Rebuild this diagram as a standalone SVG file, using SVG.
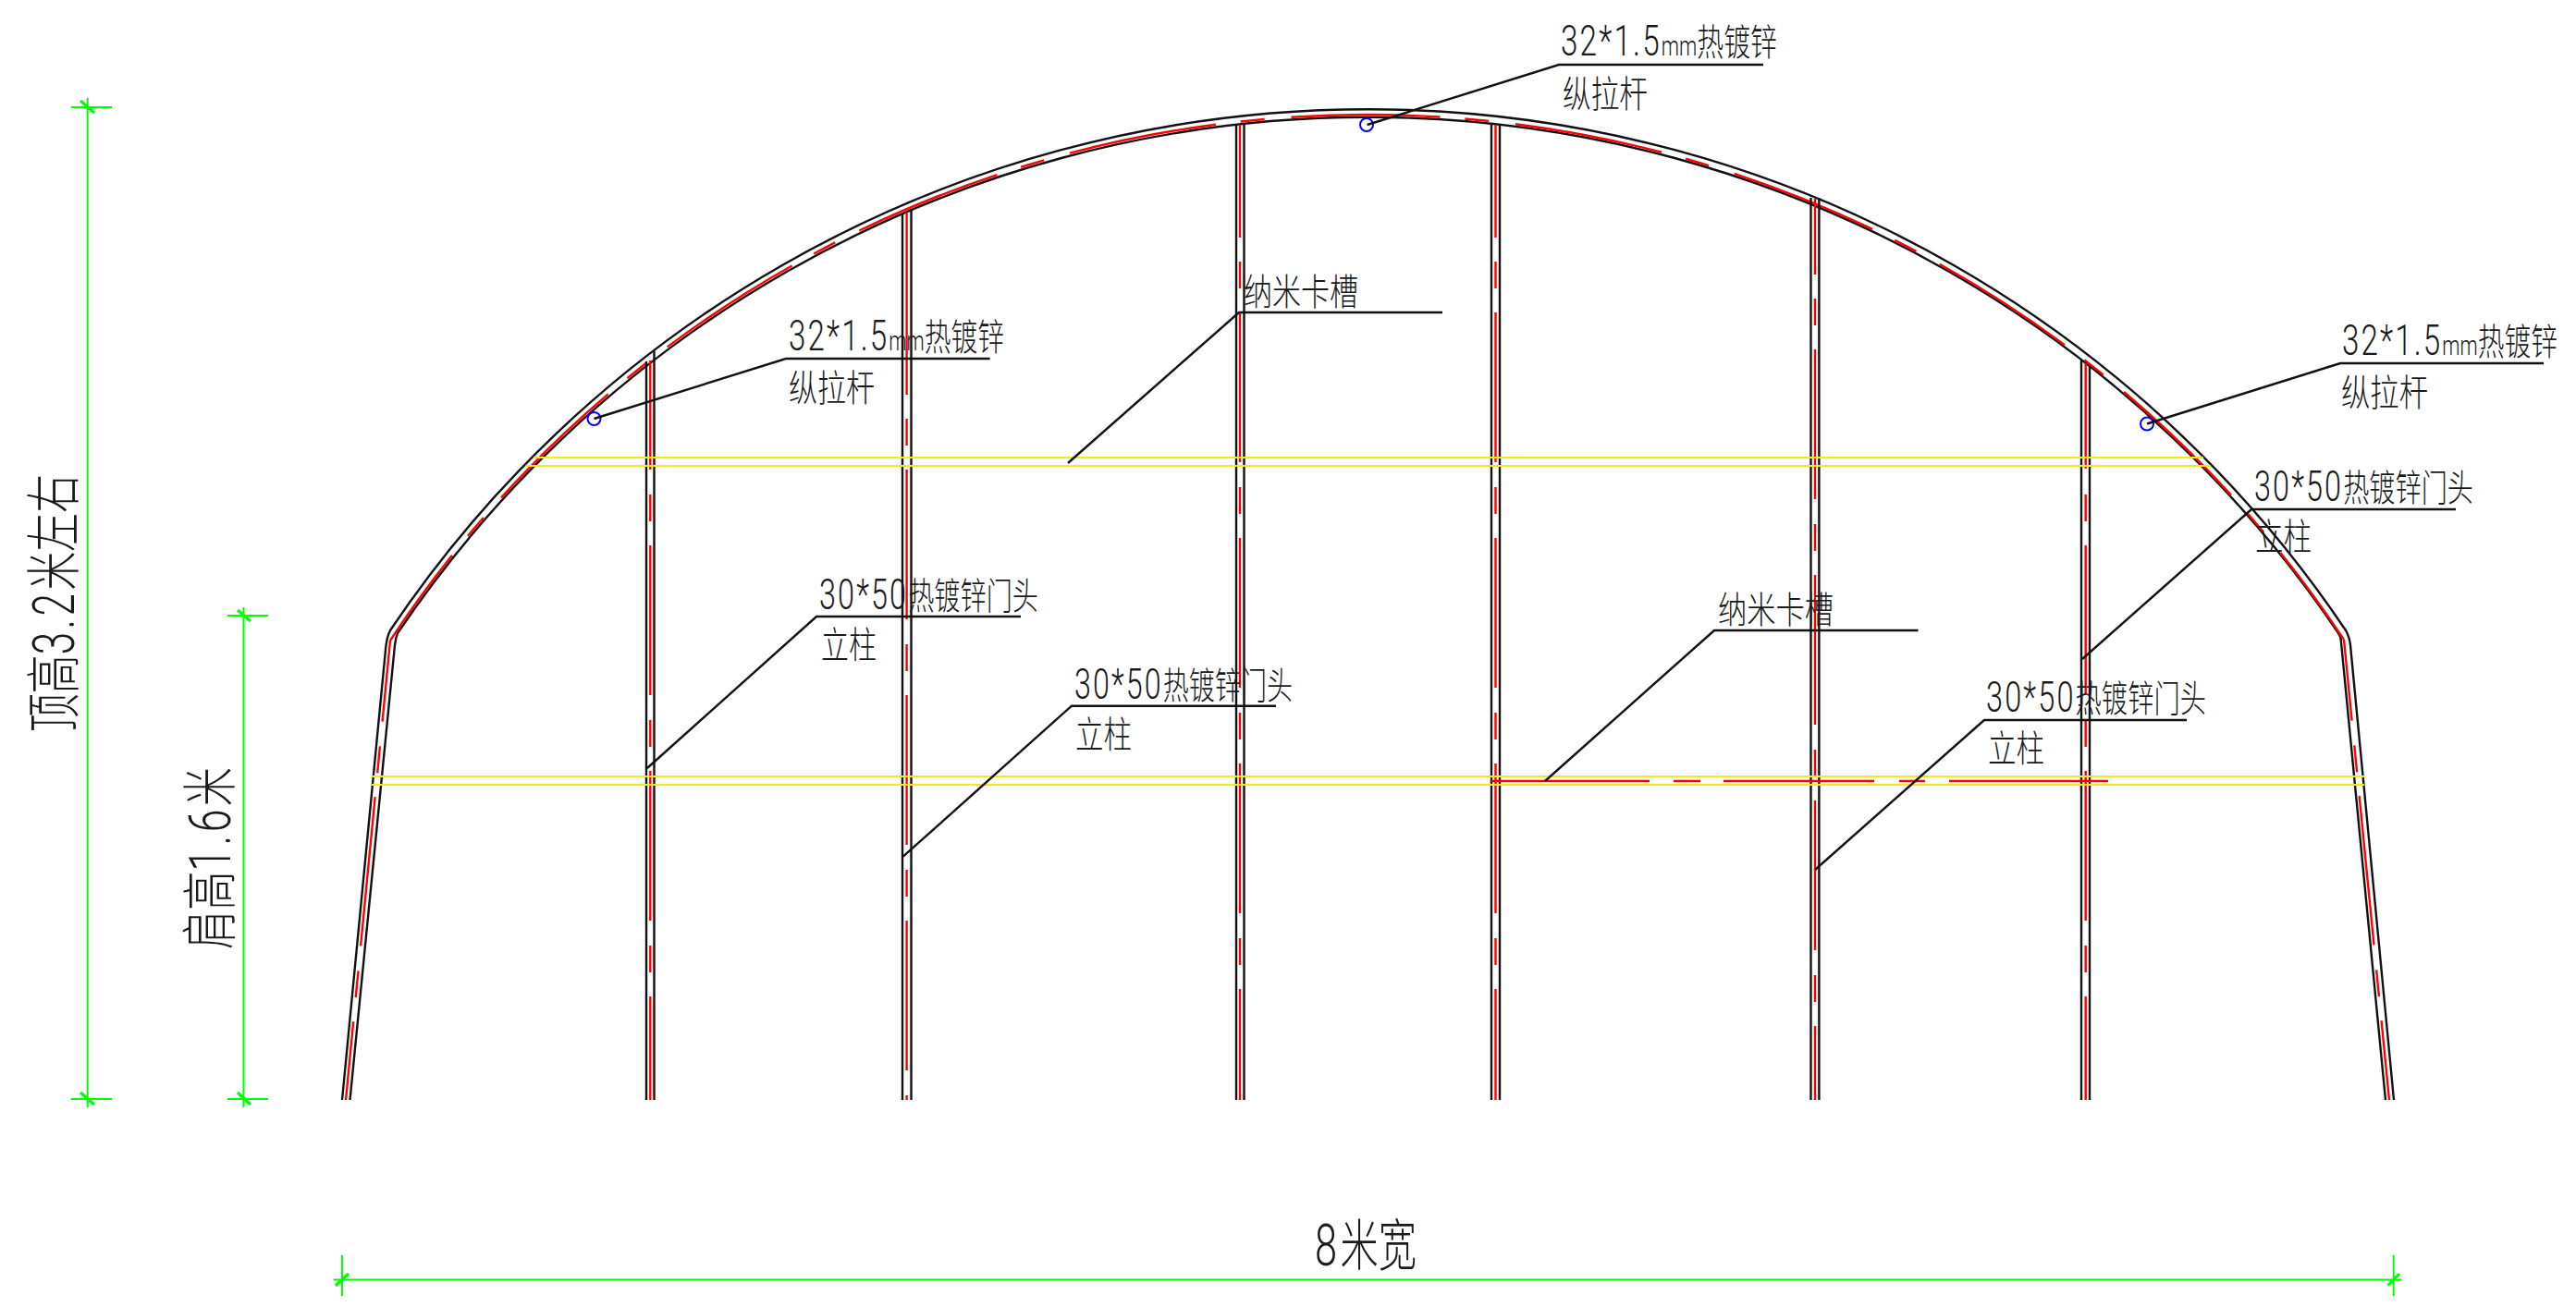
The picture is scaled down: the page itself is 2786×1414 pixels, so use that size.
<svg xmlns="http://www.w3.org/2000/svg" width="2786" height="1414" viewBox="0 0 2786 1414">
<style>
.k{fill:none;stroke:#111;stroke-width:2.4}
.l{fill:none;stroke:#111;stroke-width:2.4}
.r{fill:none;stroke:#f00;stroke-width:2.4}
.rc{stroke-dasharray:162 27 29 26}
.y{fill:none;stroke:#f5ea14;stroke-width:2}
.g{fill:none;stroke:#0f0;stroke-width:2}
.gt{fill:none;stroke:#0f0;stroke-width:3.2}
.b{fill:none;stroke:#00f;stroke-width:2}
text{font-family:"Liberation Sans","Noto Sans CJK SC",sans-serif;font-weight:300;fill:#1a1a1a;font-size:40px}
.big{font-size:60px}
.n{font-family:Roboto,"Liberation Sans",sans-serif;font-weight:300;font-size:46px;letter-spacing:3px}
.m{font-size:30px;letter-spacing:0}
.big .n{font-size:63px;letter-spacing:5px}
</style>
<rect width="2786" height="1414" fill="#fff"/>
<g id="arch">
<path class="k" d="M370,1190L417,703Q418,690 422,682A1273.7,1273.7 0 0 1 2537,682Q2541,689 2542,698L2589,1190"/>
<path class="k" d="M378.5,1190L427,698Q428,690 430,685A1265.7,1265.7 0 0 1 2529,685Q2532,689 2532,695L2580,1190"/>
<path class="r" stroke-dasharray="161 27 26 29" stroke-dashoffset="47" d="M422,693A1266,1266 0 0 1 2535,692"/>
<path class="r rc" stroke-dashoffset="74" d="M422,693L374,1190"/>
<path class="r rc" stroke-dashoffset="74" d="M2535,692L2584,1190"/>
</g>
<g id="column-1">
<path class="k" d="M699,391V1190M707.5,380V1190"/>
<path class="r rc" stroke-dashoffset="44" d="M703.3,390V1190"/>
</g>
<g id="column-2">
<path class="k" d="M976,232V1190M985.5,228V1190"/>
<path class="r" d="M980.6,229V427"/>
<path class="r" stroke-dasharray="29 26 162 27" d="M980.6,453V1190"/>
</g>
<g id="column-3">
<path class="k" d="M1337,135V1190M1345.5,135V1190"/>
<path class="r" d="M1341,135V257"/>
<path class="r" stroke-dasharray="29 26 162 27" d="M1341,283V1190"/>
</g>
<g id="column-4">
<path class="k" d="M1613,135V1190M1622,135V1190"/>
<path class="r" d="M1617.5,135V257"/>
<path class="r" stroke-dasharray="29 26 162 27" d="M1617.5,283V1190"/>
</g>
<g id="column-5">
<path class="k" d="M1958.5,214V1190M1967.4,214V1190"/>
<path class="r" d="M1963,215V297"/>
<path class="r" stroke-dasharray="29 26 162 27" d="M1963,323V1190"/>
</g>
<g id="column-6">
<path class="k" d="M2251,390V1190M2260,396V1190"/>
<path class="r" d="M2255.7,393V507"/>
<path class="r" stroke-dasharray="29 26 162 27" d="M2255.7,535V1190"/>
</g>
<g id="nano-slot-upper">
<path class="y" d="M577,495H2383M568.5,504H2391"/>
</g>
<g id="nano-slot-lower">
<path class="y" d="M402,840H2557M401.5,849H2557"/>
<path class="r" stroke-dasharray="171 26 29 25 163 27 28 26 172" d="M1613,845H2280"/>
</g>
<g id="tie-rod-points">
<circle class="b" cx="1478" cy="135" r="7"/>
<circle class="b" cx="642.5" cy="453" r="7"/>
<circle class="b" cx="2322" cy="458.5" r="7"/>
</g>
<g id="connectors">
<path class="l" d="M1478.6,135L1686,70H1907"/>
<path class="l" d="M642.5,453L850,388H1070.6"/>
<path class="l" d="M2322,458.5L2531,393H2751"/>
<path class="l" d="M1155,501L1340,338H1560"/>
<path class="l" d="M1671,845L1854,682H2074.5"/>
<path class="l" d="M700,831L883,667H1104"/>
<path class="l" d="M976.7,926.7L1159,763.7H1380"/>
<path class="l" d="M1963,941L2146,779H2365"/>
<path class="l" d="M2252,713L2435,551H2656"/>
</g>
<g id="label-top-rod">
<text x="1688" y="60" textLength="234" lengthAdjust="spacingAndGlyphs"><tspan class="n">32*1.5<tspan class="m">mm</tspan></tspan>热镀锌</text>
<text x="1690" y="116" textLength="92" lengthAdjust="spacingAndGlyphs">纵拉杆</text>
</g>
<g id="label-left-rod">
<text x="853" y="379" textLength="233" lengthAdjust="spacingAndGlyphs"><tspan class="n">32*1.5<tspan class="m">mm</tspan></tspan>热镀锌</text>
<text x="853" y="434" textLength="93" lengthAdjust="spacingAndGlyphs">纵拉杆</text>
</g>
<g id="label-right-rod">
<text x="2533" y="384" textLength="233" lengthAdjust="spacingAndGlyphs"><tspan class="n">32*1.5<tspan class="m">mm</tspan></tspan>热镀锌</text>
<text x="2532" y="439" textLength="94" lengthAdjust="spacingAndGlyphs">纵拉杆</text>
</g>
<g id="label-nano-upper">
<text x="1345" y="330" textLength="124" lengthAdjust="spacingAndGlyphs">纳米卡槽</text>
</g>
<g id="label-nano-lower">
<text x="1858" y="674" textLength="125" lengthAdjust="spacingAndGlyphs">纳米卡槽</text>
</g>
<g id="label-post-1">
<text x="886" y="659" textLength="237" lengthAdjust="spacingAndGlyphs"><tspan class="n">30*50</tspan>热镀锌门头</text>
<text x="888" y="712" textLength="60" lengthAdjust="spacingAndGlyphs">立柱</text>
</g>
<g id="label-post-2">
<text x="1162" y="756" textLength="236" lengthAdjust="spacingAndGlyphs"><tspan class="n">30*50</tspan>热镀锌门头</text>
<text x="1163" y="809" textLength="61" lengthAdjust="spacingAndGlyphs">立柱</text>
</g>
<g id="label-post-3">
<text x="2148" y="770" textLength="238" lengthAdjust="spacingAndGlyphs"><tspan class="n">30*50</tspan>热镀锌门头</text>
<text x="2150" y="824" textLength="61" lengthAdjust="spacingAndGlyphs">立柱</text>
</g>
<g id="label-post-4">
<text x="2438" y="542" textLength="237" lengthAdjust="spacingAndGlyphs"><tspan class="n">30*50</tspan>热镀锌门头</text>
<text x="2439" y="595" textLength="61" lengthAdjust="spacingAndGlyphs">立柱</text>
</g>
<g id="dim-height">
<path class="g" d="M94.7,106V1198M77,116H121M77,1189H121"/>
<path class="gt" d="M87,109L102,122M87,1182L102,1195"/>
<text class="big" transform="translate(80,792) rotate(-90)" textLength="279" lengthAdjust="spacingAndGlyphs">顶高<tspan class="n">3.2</tspan>米左右</text>
</g>
<g id="dim-shoulder">
<path class="g" d="M263.5,657V1198M246,666H290M246,1189H290"/>
<path class="gt" d="M257,660L271,672M257,1182L271,1195"/>
<text class="big" transform="translate(249,1027) rotate(-90)" textLength="197" lengthAdjust="spacingAndGlyphs">肩高<tspan class="n">1.6</tspan>米</text>
</g>
<g id="dim-width">
<path class="g" d="M360.7,1384.5H2597.7M370,1358V1402M2588.7,1358V1402"/>
<path class="gt" d="M363,1391L377,1378M2582.7,1390.7L2595,1378"/>
<text class="big" x="1422" y="1369" textLength="110" lengthAdjust="spacingAndGlyphs"><tspan class="n">8</tspan>米宽</text>
</g>
</svg>
